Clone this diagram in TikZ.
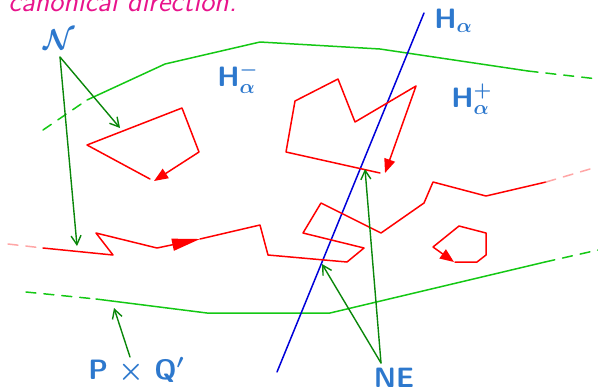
\documentclass[tikz,border=0pt]{standalone}
\usepackage{amsmath}
\usetikzlibrary{arrows.meta,positioning}
\definecolor{labelblue}{RGB}{45,120,205}
\definecolor{titlemagenta}{RGB}{232,20,140}
\definecolor{hullgreen}{RGB}{20,200,20}
\definecolor{pointgreen}{RGB}{10,135,10}
\tikzset{pixels/.style={
  x=0.5pt,y=-0.5pt,
  >=Stealth,line join=round,line cap=round
}}
\tikzset{
  hull/.style={hullgreen,line width=0.75pt},
  hulldash/.style={hull,dash pattern=on 5pt off 4pt},
  cycleline/.style={red,line width=0.75pt},
  cyclefade/.style={red!35,line width=0.75pt,dash pattern=on 5pt off 4pt},
  flowtip/.style={-{Triangle[length=7pt,width=5.5pt]}},
  bigtip/.style={-{Triangle[length=14pt,width=6pt]}},
  pointer/.style={pointgreen,line width=0.7pt,-{Straight Barb[length=4.5pt,width=5pt]}},
  biglabel/.style={text=labelblue,inner sep=0pt,font=\fontsize{14}{16}\selectfont\sffamily\bfseries}
}

\begin{document}
\begin{tikzpicture}[pixels]
  \useasboundingbox (0,0) rectangle (598,387);
  % title, cut by the top edge
  \node[anchor=base west,inner sep=0pt,text=titlemagenta,
        font=\fontsize{14.5}{17}\selectfont\sffamily\itshape] (title) at (8,11) {canonical direction.};
  % boundary of P x Q'
  \coordinate (U0) at (43,130);
  \coordinate (U1) at (87,100);
  \coordinate (U5) at (528,71);
  \coordinate (U6) at (598,79);
  \coordinate (L0) at (26,292);
  \coordinate (L1) at (96,299);
  \coordinate (L2) at (114,308);
  \coordinate (L4) at (545,262);
  \coordinate (L5) at (598,250);
  \draw[hulldash] (U0)--(U1);
  \draw[hull] (U1)--(165,64)--(260,42)--(380,49)--(U5);
  \draw[hulldash] (U5)--(U6);
  \draw[hulldash] (L0)--(L1);
  \draw[hull] (L1)--(207,313)--(330,313)--(L4);
  \draw[hulldash] (L4)--(L5);
  % hyperplane
  \coordinate (Hbot) at (277,372);
  \coordinate (Htop) at (424,13);
  \draw[blue!85!black,line width=0.75pt] (Hbot)--(Htop);
  % long red path
  \coordinate (R0) at (8,244);
  \coordinate (R1) at (43,248);
  \coordinate (R2) at (77,246);
  \coordinate (Rm) at (200,239);
  \coordinate (Rx) at (322,264);
  \coordinate (R9) at (546,182);
  \coordinate (R10) at (590,169);
  \draw[cyclefade] (R0)--(R1);
  \draw[cycleline,bigtip] (R1)--(113,255)--(96,233)--(157,248)--(Rm);
  \draw[cycleline] (Rm)--(260,225)--(268,255)--(347,262)--(364,248)--(303,233)
    --(321,203)--(381,233)--(424,203)--(433,182)--(486,196)--(R9);
  \draw[cyclefade] (R9)--(R10);
  % upper left loop
  \coordinate (A1) at (120,128);
  \draw[cycleline,flowtip] (150,179)--(87,145)--(182,108)--(199,152)--(154,181);
  % upper middle loop
  \coordinate (Bx) at (365,169);
  \draw[cycleline,flowtip] (380,173)--(286,152)--(295,101)--(338,79)--(355,122)--(416,86)--(385,173);
  % small right loop
  \draw[cycleline,flowtip] (455,262)--(477,262)--(486,255)--(486,233)--(459,226)--(433,247)--(454,262);
  % labels
  \node[biglabel,anchor=base west] (Ha) at (434,28) {H$_{\boldsymbol{\alpha}}$};
  \node[biglabel,anchor=base west] (Hminus) at (217,86) {H$^{\boldsymbol{-}}_{\boldsymbol{\alpha}}$};
  \node[biglabel,anchor=base west] (Hplus) at (451,107) {H$^{\boldsymbol{+}}_{\boldsymbol{\alpha}}$};
  \node[text=labelblue,inner sep=0pt,font=\fontsize{15}{17}\selectfont] (calN) at (59,40) {$\boldsymbol{\mathcal{N}}$};
  \node[biglabel,anchor=base west] (PQ) at (88,379) {P $\boldsymbol{\times}$ Q$\boldsymbol{'}$};
  \node[biglabel,anchor=base] (NE) at (394,387) {NE};
  % pointers
  \coordinate (Nfoot) at (60,57);
  \coordinate (PQfoot) at (130,357);
  \coordinate (NEfoot) at (381,363);
  \draw[pointer] (Nfoot)--(A1);
  \draw[pointer] (Nfoot)--(R2);
  \draw[pointer] (PQfoot)--(L2);
  \draw[pointer] (NEfoot)--(Rx);
  \draw[pointer] (NEfoot)--(Bx);
\end{tikzpicture}
\end{document}
